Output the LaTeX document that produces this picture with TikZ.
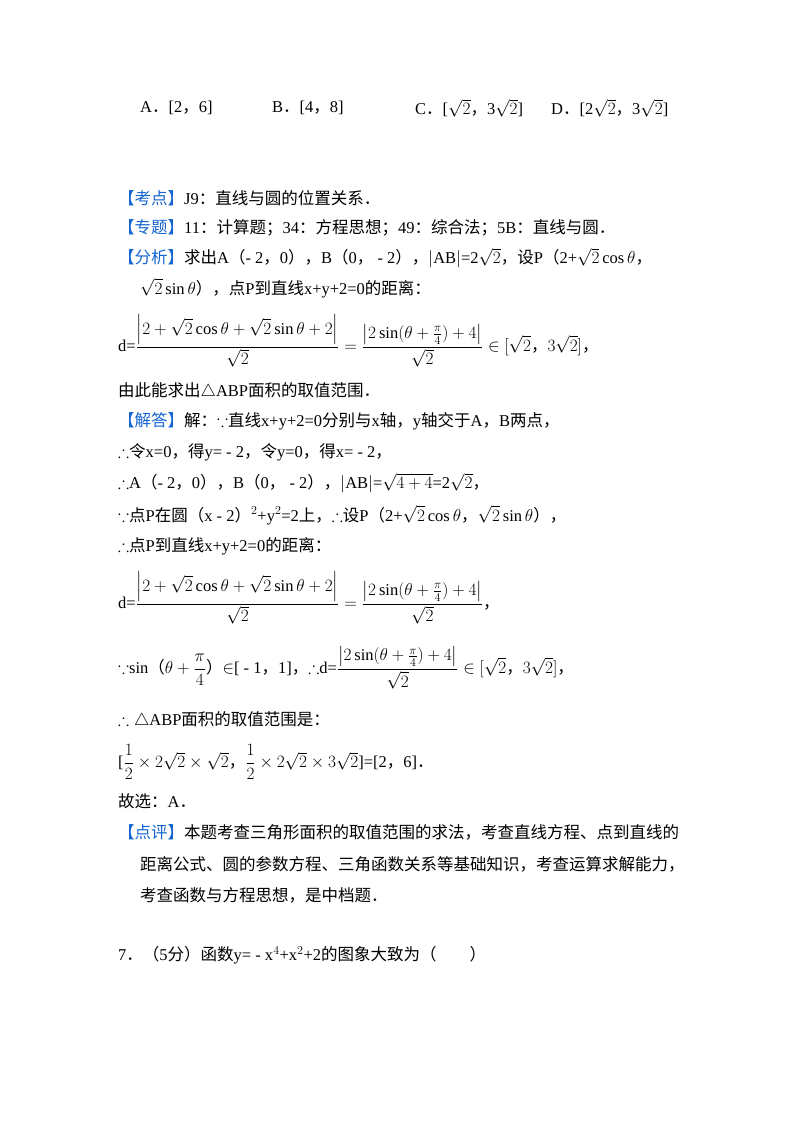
\documentclass[tikz,border=0pt]{standalone}
\usepackage{amsmath,amssymb}
\usepackage{fontspec}
\setmainfont{Liberation Serif}
\newfontfamily\zhf{Noto Sans CJK SC}
\newcommand{\zh}[1]{{\zhf #1}}
\definecolor{kblue}{RGB}{20,100,210}
\newcommand{\kb}[1]{\textcolor{kblue}{\zh{【#1】}}}
\begin{document}
\begin{tikzpicture}[x=1pt,y=-1pt,
  t/.style={anchor=west,inner sep=0pt,font=\fontsize{16.5}{19}\selectfont}]
\useasboundingbox[fill=white] (0,0) rectangle (800,1132);
\node[t] (a1) at (140,108) {A\zh{．}[2\zh{，}6]};
\node[t] (a2) at (272,108) {B\zh{．}[4\zh{，}8]};
\node[t] (a3) at (415,108) {C\zh{．}[$\sqrt{2}$\zh{，}3$\sqrt{2}$]};
\node[t] (a4) at (551,108) {D\zh{．}[2$\sqrt{2}$\zh{，}3$\sqrt{2}$]};
\node[t] (l1) at (118,198) {\kb{考点}J9\zh{：直线与圆的位置关系．}};
\node[t] (l2) at (118,228) {\kb{专题}11\zh{：计算题；}34\zh{：方程思想；}49\zh{：综合法；}5B\zh{：直线与圆．}};
\node[t] (l3) at (118,258) {\kb{分析}\zh{求出}A\zh{（}- 2\zh{，}0\zh{），}B\zh{（}0\zh{，} - 2\zh{），}$|$AB$|$=2$\sqrt{2}$\zh{，设}P\zh{（}2+$\sqrt{2}\cos\theta$\zh{，}};
\node[t] (l4) at (140,288) {$\sqrt{2}\sin\theta$\zh{），点}P\zh{到直线}x+y+2=0\zh{的距离：}};
\node[t] (l5) at (118,341) {d=$\dfrac{\left|2+\sqrt{2}\cos\theta+\sqrt{2}\sin\theta+2\right|}{\sqrt{2}}=\dfrac{\left|2\sin(\theta+\frac{\pi}{4})+4\right|}{\sqrt{2}}\in[\sqrt{2}$\zh{，}$3\sqrt{2}]$\zh{，}};
\node[t] (l6) at (118,391) {\zh{由此能求出}$\triangle$ABP\zh{面积的取值范围．}};
\node[t] (l7) at (118,421) {\kb{解答}\zh{解：}$\because$\zh{直线}x+y+2=0\zh{分别与}x\zh{轴，}y\zh{轴交于}A\zh{，}B\zh{两点，}};
\node[t] (l8) at (118,452) {$\therefore$\zh{令}x=0\zh{，得}y= - 2\zh{，令}y=0\zh{，得}x= - 2\zh{，}};
\node[t] (l9) at (118,483) {$\therefore$A\zh{（}- 2\zh{，}0\zh{），}B\zh{（}0\zh{，} - 2\zh{），}$|$AB$|$=$\sqrt{4+4}$=2$\sqrt{2}$\zh{，}};
\node[t] (l10) at (118,515) {$\because$\zh{点}P\zh{在圆（}x - 2\zh{）}$^2$+y$^2$=2\zh{上，}$\therefore$\zh{设}P\zh{（}2+$\sqrt{2}\cos\theta$\zh{，}$\sqrt{2}\sin\theta$\zh{），}};
\node[t] (l11) at (118,546) {$\therefore$\zh{点}P\zh{到直线}x+y+2=0\zh{的距离：}};
\node[t] (l12) at (118,598) {d=$\dfrac{\left|2+\sqrt{2}\cos\theta+\sqrt{2}\sin\theta+2\right|}{\sqrt{2}}=\dfrac{\left|2\sin(\theta+\frac{\pi}{4})+4\right|}{\sqrt{2}}$\zh{，}};
\node[t] (l13) at (118,668) {$\because$sin\zh{（}$\theta+\dfrac{\pi}{4}$\zh{）}$\in$[ - 1\zh{，}1]\zh{，}$\therefore$d=$\dfrac{\left|2\sin(\theta+\frac{\pi}{4})+4\right|}{\sqrt{2}}\in[\sqrt{2}$\zh{，}$3\sqrt{2}]$\zh{，}};
\node[t] (l14) at (118,720) {$\therefore\triangle$ABP\zh{面积的取值范围是：}};
\node[t] (l15) at (118,762) {[$\dfrac{1}{2}\times2\sqrt{2}\times\sqrt{2}$\zh{，}$\dfrac{1}{2}\times2\sqrt{2}\times3\sqrt{2}$]=[2\zh{，}6]\zh{．}};
\node[t] (l16) at (118,801) {\zh{故选：}A\zh{．}};
\node[t] (l17) at (118,832) {\kb{点评}\zh{本题考查三角形面积的取值范围的求法，考查直线方程、点到直线的}};
\node[t] (l18) at (140,864) {\zh{距离公式、圆的参数方程、三角函数关系等基础知识，考查运算求解能力，}};
\node[t] (l19) at (140,895) {\zh{考查函数与方程思想，是中档题．}};
\node[t] (l20) at (118,955) {7\zh{．（}5\zh{分）函数}y= - x$^4$+x$^2$+2\zh{的图象大致为（\hspace{2em}）}};
\end{tikzpicture}
\end{document}
